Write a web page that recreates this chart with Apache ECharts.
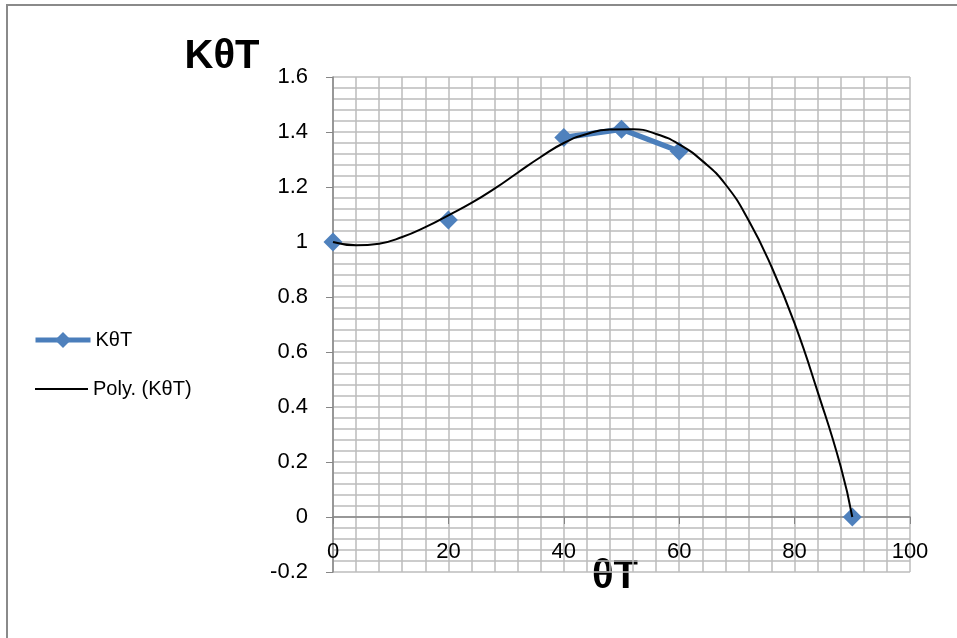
<!DOCTYPE html>
<html>
<head>
<meta charset="utf-8">
<script src="https://cdn.jsdelivr.net/npm/echarts@6/dist/echarts.min.js"></script>
<style>
  html, body { margin: 0; padding: 0; background: #fff; }
  #chart { width: 957px; height: 638px; }
</style>
</head>
<body>
<div id="chart"></div>
<script>
// measured points (blank cells break the line, like in the sheet)
var thetaT = [0, 10, 20, 30, 40, 50, 60, 70, 80, 90];
var kThetaT = [1, null, 1.08, null, 1.38, 1.41, 1.33, null, null, 0];

// polynomial trendline
var trendX = [0, 4, 8, 12, 16, 20, 24, 28, 32, 36, 40, 44, 48, 52, 56, 60, 64, 68, 72, 76, 80, 84, 88, 90];
var trendY = [1.0, 0.988, 0.994, 1.018, 1.054, 1.097, 1.142, 1.194, 1.252, 1.309, 1.36, 1.393, 1.409, 1.41, 1.393, 1.355, 1.295, 1.21, 1.08, 0.91, 0.704, 0.455, 0.183, 0.0];

var xTicks = {min: 0, max: 100, step: 20};
var yTicks = {min: -0.2, max: 1.6, step: 0.2};

var font = 'Liberation Sans, Arial, sans-serif';
var gridColor = '#bcbcbc';
var axisColor = '#868686';

var chart = echarts.init(document.getElementById('chart'), null, {renderer: 'canvas'});

var pts = thetaT.map(function (t, i) { return [t, kThetaT[i] === null ? '-' : kThetaT[i]]; });
var trend = trendX.map(function (t, i) { return [t, trendY[i]]; });

chart.setOption({
    animation: false,
    backgroundColor: '#fff',
    grid: {left: 333, right: 47, top: 77, bottom: 66},
    legend: [
        {data: ['KθT'], left: 33, top: 330, padding: 0, itemWidth: 55, itemHeight: 20,
         lineStyle: {width: 5}, itemGap: 5,
         textStyle: {fontFamily: font, fontSize: 20, color: '#000'}},
        {data: [{name: 'Poly. (KθT)', icon: 'rect'}], left: 35, top: 379, padding: 0, itemWidth: 53, itemHeight: 2,
         itemStyle: {color: '#000'}, itemGap: 5,
         textStyle: {fontFamily: font, fontSize: 20, color: '#000'}}
    ],
    xAxis: {
        type: 'value',
        min: xTicks.min, max: xTicks.max, interval: xTicks.step,
        axisLine: {onZero: true, lineStyle: {color: axisColor, width: 1.5}},
        axisTick: {show: true, inside: false, length: 7, lineStyle: {color: axisColor}},
        axisLabel: {margin: -31, fontFamily: font, fontSize: 22, color: '#000'},
        splitLine: {show: true, lineStyle: {color: gridColor, width: 1.5}},
        minorTick: {show: false, splitNumber: 5},
        minorSplitLine: {show: true, lineStyle: {color: gridColor, width: 1.5}}
    },
    yAxis: {
        type: 'value',
        min: yTicks.min, max: yTicks.max, interval: yTicks.step,
        axisLine: {show: true, onZero: false, lineStyle: {color: axisColor, width: 1.5}},
        axisTick: {show: true, inside: false, length: 7, lineStyle: {color: axisColor}},
        axisLabel: {margin: 25, fontFamily: font, fontSize: 22, color: '#000'},
        splitLine: {show: true, lineStyle: {color: gridColor, width: 1.5}},
        minorTick: {show: false, splitNumber: 5},
        minorSplitLine: {show: true, lineStyle: {color: gridColor, width: 1.5}}
    },
    series: [
        {
            name: 'KθT',
            type: 'line',
            data: pts,
            connectNulls: false,
            symbol: 'diamond',
            symbolSize: 19,
            itemStyle: {color: '#4f81bd'},
            lineStyle: {color: '#4a7ebb', width: 5.5},
            z: 2
        },
        {
            name: 'Poly. (KθT)',
            type: 'line',
            data: trend,
            smooth: true,
            symbol: 'none',
            itemStyle: {color: '#000'},
            lineStyle: {color: '#000', width: 2},
            z: 3
        }
    ],
    graphic: [
        {type: 'rect', shape: {x: 7, y: 5, width: 1000, height: 1000},
         style: {fill: null, stroke: '#8a8a8a', lineWidth: 2}, silent: true},
        {type: 'text', x: 222, y: 57,
         style: {text: 'KθT', font: 'bold 40px ' + font, fill: '#000', align: 'center', verticalAlign: 'middle'}},
        {type: 'text', x: 615, y: 577,
         style: {text: 'θT', font: 'bold 40px ' + font, fill: '#000', align: 'center', verticalAlign: 'middle'}}
    ]
});
</script>
</body>
</html>
